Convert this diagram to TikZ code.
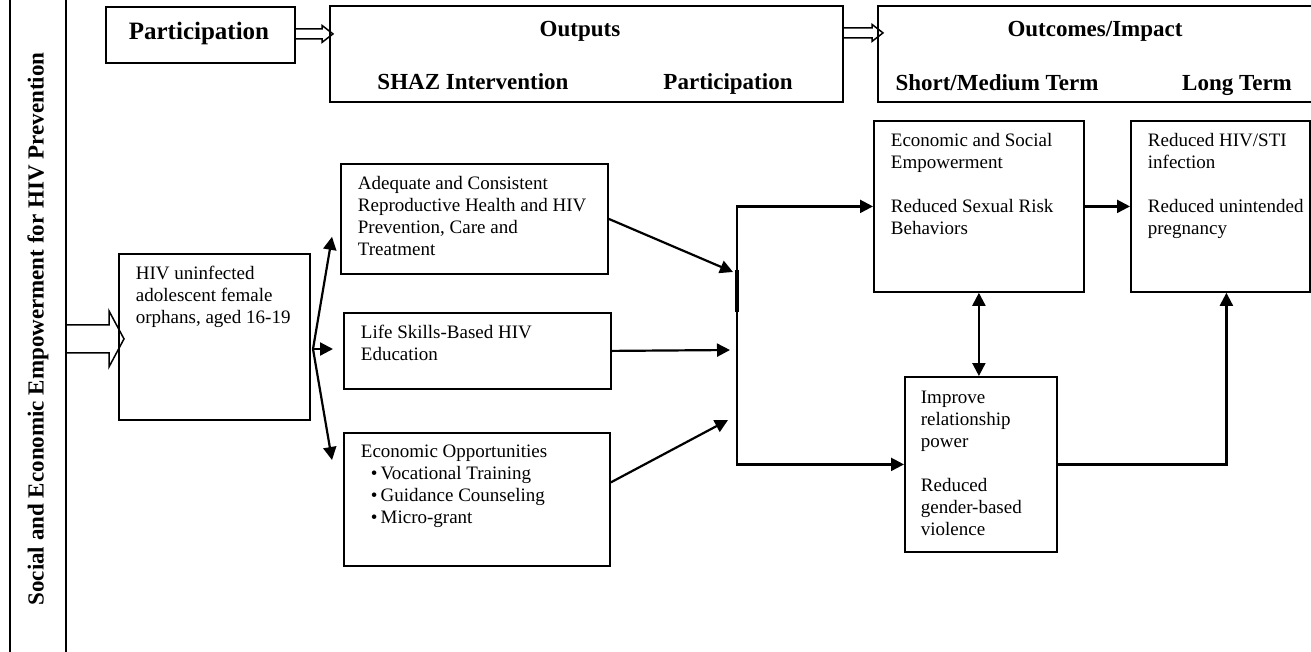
\documentclass[tikz,border=0pt]{standalone}
\usepackage{fontspec}
\setmainfont{Liberation Serif}
\usetikzlibrary{arrows.meta,calc}
\tikzset{>={Triangle[length=13pt,width=13pt]}}
\newcommand\body{\fontsize{19}{22}\selectfont}
\newcommand\head{\fontsize{23}{26}\selectfont\bfseries}
\newcommand\boxtext[3]{\parbox[t][#2pt][t]{#1pt}{\raggedright #3}}
\newcommand\fatarrow[5]{%
  \draw[line width=1.5pt,line join=miter]
    ($(#1)+(0,-#3)$) -- ($(#2)+(-#5,-#3)$) -- ($(#2)+(-#5,-#4)$) -- (#2)
    -- ($(#2)+(-#5,#4)$) -- ($(#2)+(-#5,#3)$) -- ($(#1)+(0,#3)$);}
\tikzstyle{hdr}=[draw,line width=1.8pt,anchor=north west,inner sep=0pt]
\tikzstyle{hdrtext}=[font=\head,anchor=base,inner sep=0pt]
\tikzstyle{box}=[draw,line width=1.8pt,anchor=north west,inner xsep=17pt,
                 inner ysep=12pt,align=left,font=\body]
\tikzstyle{link}=[->,line width=2.2pt]

\begin{document}
\begin{tikzpicture}[x=1pt,y=-1pt]
  \useasboundingbox (0,0) rectangle (1311,651);
  % side bar and header row
  \node[draw,line width=1.8pt,rotate=90,minimum width=720pt,minimum height=56pt,
        inner sep=0pt,font=\head] (title) at (38,329)
        {Social and Economic Empowerment for HIV Prevention};
  \node[hdr,minimum width=189pt,minimum height=56pt] (part) at (105,6) {};
  \node[font=\fontsize{25}{28}\selectfont\bfseries,anchor=base,inner sep=0pt]
        (partttl) at (199,39) {Participation};
  \node[hdr,minimum width=513pt,minimum height=96pt] (outputs) at (329,5) {};
  \node[hdr,minimum width=440pt,minimum height=96pt] (outcomes) at (877,5) {};
  \node[hdrtext] (outlbl) at (580,36) {Outputs};
  \node[hdrtext] (shaz) at (473,89) {SHAZ Intervention};
  \node[hdrtext] (partlbl) at (728,89) {Participation};
  \node[hdrtext] (outclbl) at (1095,36) {Outcomes/Impact};
  \node[hdrtext] (short) at (997,90) {Short/Medium Term};
  \node[hdrtext] (long) at (1237,90) {Long Term};
  \coordinate (a0) at ($(part.east)+(0,-1)$);
  \coordinate (a1) at ($(a0 -| outputs.west)+(4,0)$);
  \coordinate (a2) at ($(outputs.east |- part.east)+(0,-2)$);
  \coordinate (a3) at ($(outcomes.west |- a2)+(6,0)$);
  \fatarrow{a0}{a1}{5}{8.5}{11}
  \fatarrow{a2}{a3}{5}{8.5}{11}

  % boxes
  \node[box] (hiv) at (118,253)
    {\boxtext{157}{142}{HIV uninfected\\adolescent female\\\mbox{orphans, aged 16-19}}};
  \node[box] (rh) at (340,163)
    {\boxtext{233}{86}{Adequate and Consistent\\\mbox{Reproductive Health and HIV}\\Prevention, Care and\\Treatment}};
  \node[box] (life) at (343,312)
    {\boxtext{233}{52}{Life Skills-Based HIV\\Education}};
  \node[box] (econ) at (343,432)
    {\boxtext{232}{109}{Economic Opportunities\\
      \hspace*{10pt}\textbullet\,Vocational Training\\
      \hspace*{10pt}\textbullet\,Guidance Counseling\\
      \hspace*{10pt}\textbullet\,Micro-grant}};
  \node[box] (emp) at (873,120)
    {\boxtext{176}{147}{Economic and Social\\Empowerment\\[22pt]Reduced Sexual Risk\\Behaviors}};
  \node[box] (hivsti) at (1130,120)
    {\boxtext{145}{147}{Reduced HIV/STI\\infection\\[22pt]\mbox{Reduced unintended}\\pregnancy}};
  \node[box,inner xsep=16pt,inner ysep=14pt] (power) at (904,376)
    {\boxtext{120}{147}{Improve\\relationship\\power\\[22pt]Reduced\\gender-based\\violence}};

  % arrows
  \coordinate (start) at ($(hiv.west)+(-52,2)$);
  \coordinate (tip) at ($(hiv.west)+(6,2)$);
  \fatarrow{start}{tip}{14}{28}{15}
  \coordinate (fan) at (313,349);
  \draw[link] (fan) -- ($(rh.south west)+(-8,-38)$);
  \draw[link] (fan) -- ($(fan -| life.west)+(-10,0)$);
  \draw[link] (fan) -- ($(econ.north west)+(-11,28)$);

  \coordinate (bus) at (737,335);
  \coordinate (j1) at (733,272);
  \coordinate (j2) at (730,350);
  \coordinate (j3) at (728,420);
  \draw[link] (rh.east) -- (j1);
  \draw[link] (life.east) -- (j2);
  \draw[link] ($(econ.east)+(0,-17)$) -- (j3);
  \draw[line width=4pt] (737,270) -- (737,312);
  \draw[link,<->] (emp.west) -| (bus) |- (power.west);
  \draw[link] (emp.east) -- (hivsti.west);
  \draw[link,<->] (emp.south) -- (emp.south |- power.north);
  \draw[link] (power.east) -| ($(hivsti.south)+(6,0)$);
\end{tikzpicture}
\end{document}
